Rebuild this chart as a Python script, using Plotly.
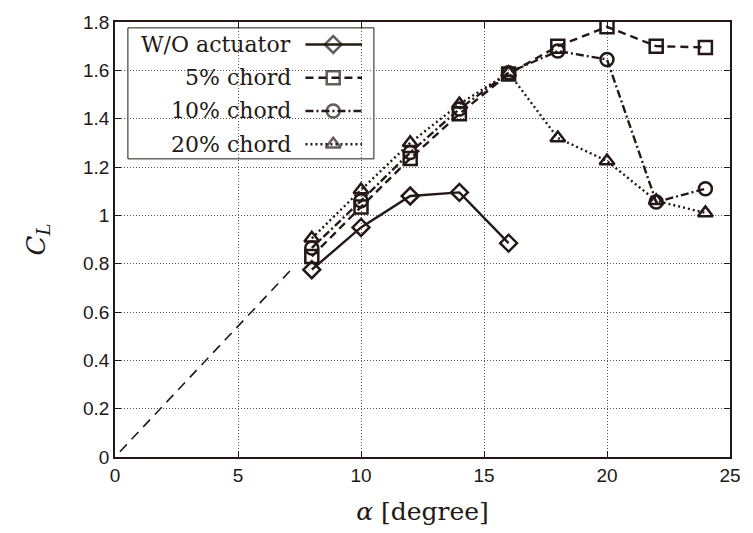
import plotly.graph_objects as go

alpha = [8, 10, 12, 14, 16, 18, 20, 22, 24]
alpha_wo = [8, 10, 12, 14, 16]
cl_wo = [0.775, 0.95, 1.08, 1.095, 0.885]
cl_5 = [0.83, 1.035, 1.235, 1.42, 1.585, 1.70, 1.78, 1.70, 1.695]
cl_10 = [0.865, 1.06, 1.26, 1.44, 1.59, 1.68, 1.645, 1.055, 1.11]
cl_20 = [0.905, 1.105, 1.30, 1.46, 1.59, 1.32, 1.225, 1.06, 1.01]
theory_alpha = [0.2, 7.3]
theory_cl = [0.022, 0.79]

labels = ["W/O actuator", "5% chord", "10% chord", "20% chord"]
x_ticks = [0, 5, 10, 15, 20, 25]
y_ticks = [0, 0.2, 0.4, 0.6, 0.8, 1, 1.2, 1.4, 1.6, 1.8]
y_ticktext = ["0", "0.2", "0.4", "0.6", "0.8", "1", "1.2", "1.4", "1.6", "1.8"]

C = "#231815"
styles = [
    dict(dash="solid", symbol="diamond-open"),
    dict(dash="8px,5px", symbol="square-open"),
    dict(dash="8px,3px,2px,3px", symbol="circle-open"),
    dict(dash="2px,3px", symbol="triangle-up-open"),
]
series = [(alpha_wo, cl_wo), (alpha, cl_5), (alpha, cl_10), (alpha, cl_20)]

fig = go.Figure()
fig.add_trace(go.Scatter(x=theory_alpha, y=theory_cl, mode="lines",
                         line=dict(color=C, width=1.6, dash="10px,7px"), showlegend=False))
for (xs, ys), st in zip(series, styles):
    fig.add_trace(go.Scatter(x=xs, y=ys, mode="lines+markers",
                             line=dict(color=C, width=2.4, dash=st["dash"]),
                             marker=dict(symbol=st["symbol"], size=13, color=C,
                                         line=dict(width=2.5, color=C)),
                             showlegend=False))

# manual legend (text left, sample right) on overlay axes
L, R, T, B = 115, 735, 14, 459
fig.add_shape(type="rect", xref="paper", yref="paper",
              x0=(128 - L) / (R - L), x1=(376 - L) / (R - L),
              y0=(B - 154) / (B - T), y1=(B - 20) / (B - T),
              line=dict(color=C, width=1), fillcolor="white", layer="between")
rows = [37, 71, 105, 139]
for lab, st, ry in zip(labels, styles, rows):
    py = (B - ry) / (B - T)
    fig.add_annotation(x=(294 - L) / (R - L), y=py, xref="paper", yref="paper",
                       text=lab, showarrow=False, xanchor="right", yanchor="middle",
                       font=dict(family="DejaVu Serif", size=22, color=C))
    fig.add_trace(go.Scatter(x=[(307 - L) / (R - L), (335 - L) / (R - L), (364 - L) / (R - L)],
                             y=[py, py, py], xaxis="x2", yaxis="y2",
                             mode="lines+markers",
                             line=dict(color=C, width=2.4, dash=st["dash"]),
                             marker=dict(symbol=st["symbol"], size=[0, 13, 0], color=C,
                                         line=dict(width=2.5, color=C)),
                             showlegend=False))

grid = dict(showgrid=True, gridcolor="#555", griddash="1px,2px", gridwidth=1)
fig.update_layout(
    width=753, height=533,
    margin=dict(l=L, r=753 - R, t=T, b=533 - B),
    plot_bgcolor="white", paper_bgcolor="white",
    showlegend=False,
    xaxis=dict(range=[0, 25], tickvals=x_ticks, ticks="inside", ticklen=6,
               tickcolor=C, showline=True, linecolor=C, linewidth=1.5, mirror="ticks",
               zeroline=False, **grid,
               tickfont=dict(family="Liberation Sans", size=19, color=C),
               title=dict(text="<i>α</i> [degree]",
                          font=dict(family="DejaVu Serif", size=25, color=C), standoff=18)),
    yaxis=dict(range=[0, 1.8], tickvals=y_ticks, ticktext=y_ticktext,
               ticks="inside", ticklen=6,
               tickcolor=C, showline=True, linecolor=C, linewidth=1.5, mirror="ticks",
               zeroline=False, **grid,
               tickfont=dict(family="Liberation Sans", size=19, color=C),
               title=dict(text="<i>C<sub>L</sub></i>",
                          font=dict(family="DejaVu Serif", size=26, color=C), standoff=30)),
    xaxis2=dict(overlaying="x", range=[0, 1], visible=False, fixedrange=True),
    yaxis2=dict(overlaying="y", range=[0, 1], visible=False, fixedrange=True),
)

fig.write_html("out.html")
